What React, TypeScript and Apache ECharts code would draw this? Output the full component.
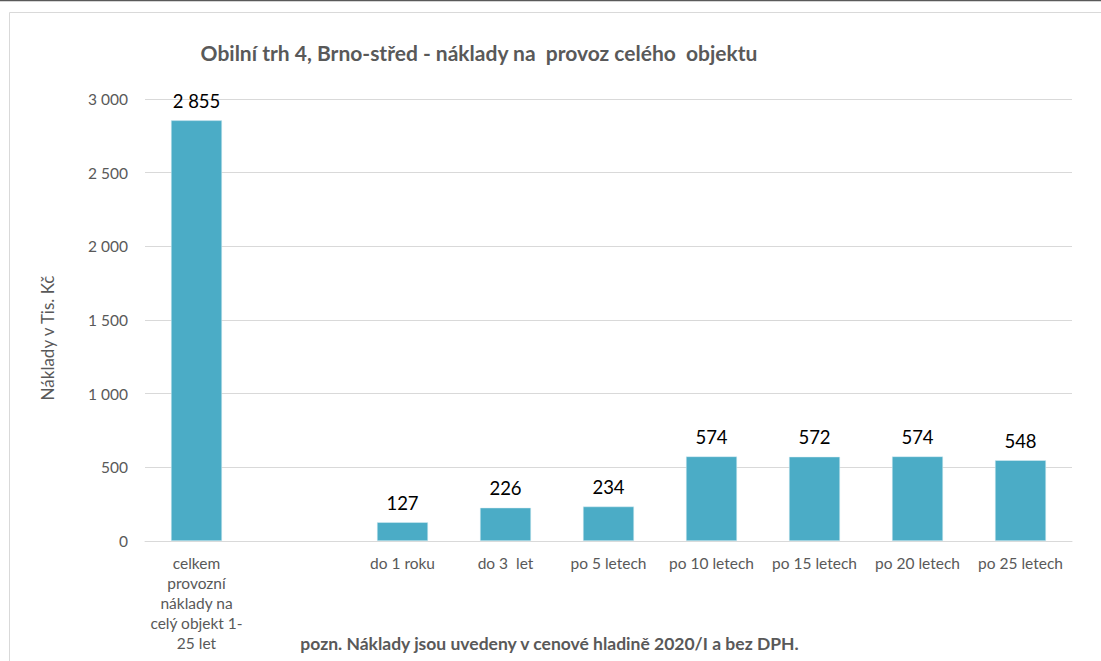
import React, { useEffect, useRef } from "react";
import * as echarts from "echarts";

const categories = [
  "celkem\nprovozní\nnáklady na\ncelý objekt 1-\n25 let",
  "",
  "do 1 roku",
  "do 3  let",
  "po 5 letech",
  "po 10 letech",
  "po 15 letech",
  "po 20 letech",
  "po 25 letech",
];
const values: (number | null)[] = [2855, null, 127, 226, 234, 574, 572, 574, 548];
const titleText = "Obilní trh 4, Brno-střed - náklady na  provoz celého  objektu";
const noteText = "pozn. Náklady jsou uvedeny v cenové hladině 2020/I a bez DPH.";
const yAxisName = "Náklady v Tis. Kč";

const fmt = (v: number) => {
  const s = String(Math.round(v));
  return s.replace(/\B(?=(\d{3})+(?!\d))/g, " ");
};

const FONT = "Lato, 'Open Sans', sans-serif";

export default function App() {
  const ref = useRef<HTMLDivElement>(null);
  useEffect(() => {
    if (!ref.current) return;
    const chart = echarts.init(ref.current, undefined, { renderer: "svg" });
    chart.setOption({
      animation: false,
      backgroundColor: "#ffffff",
      textStyle: { fontFamily: FONT },
      title: {
        text: titleText,
        left: 474,
        top: 37,
        textAlign: "center",
        textStyle: { fontSize: 21, fontWeight: "bold", color: "#595959", fontFamily: FONT },
      },
      graphic: [
        {
          type: "rect",
          shape: { x: 9.5, y: 12.5, width: 1100, height: 660 },
          style: { fill: "none", stroke: "#D9D9D9", lineWidth: 1 },
          silent: true,
        },
        {
          type: "line",
          shape: { x1: 0, y1: 0.5, x2: 1101, y2: 0.5 },
          style: { stroke: "#595959", lineWidth: 1.5 },
          silent: true,
        },
        {
          type: "text",
          x: 549.5,
          y: 643,
          style: {
            text: noteText,
            font: `bold 17.5px ${FONT}`,
            fill: "#595959",
            textAlign: "center",
            textVerticalAlign: "middle",
          },
        },
        {
          type: "text",
          x: 47,
          y: 338,
          rotation: Math.PI / 2,
          style: {
            text: yAxisName,
            font: `17px ${FONT}`,
            fill: "#595959",
            textAlign: "center",
            textVerticalAlign: "middle",
          },
        },
      ],
      grid: { left: 145, right: 29, top: 99, bottom: 120, containLabel: false },
      xAxis: {
        type: "category",
        data: categories,
        axisLine: { lineStyle: { color: "#D9D9D9", width: 1 } },
        axisTick: { show: false },
        axisLabel: {
          interval: 0,
          color: "#595959",
          fontSize: 15.5,
          lineHeight: 20,
          margin: 12,
          fontFamily: FONT,
        },
      },
      yAxis: {
        type: "value",
        min: 0,
        max: 3000,
        interval: 500,
        axisLine: { show: false },
        axisTick: { show: false },
        axisLabel: {
          color: "#595959",
          fontSize: 15.5,
          margin: 17,
          formatter: (v: number) => fmt(v),
          fontFamily: FONT,
        },
        splitLine: { lineStyle: { color: "#D9D9D9", width: 1 } },
      },
      series: [
        {
          type: "bar",
          data: values,
          barWidth: 51,
          itemStyle: { color: "#4BACC6", borderColor: "#DDEFF5", borderWidth: 0.5 },
          label: {
            show: true,
            position: "top",
            distance: 10,
            color: "#000000",
            fontSize: 18.5,
            fontFamily: FONT,
            formatter: (p: any) => fmt(p.value),
          },
        },
      ],
    });
    return () => chart.dispose();
  }, []);
  return (
    <div
      ref={ref}
      style={{ position: "absolute", left: 0, top: 0, width: 1101, height: 661 }}
    />
  );
}
